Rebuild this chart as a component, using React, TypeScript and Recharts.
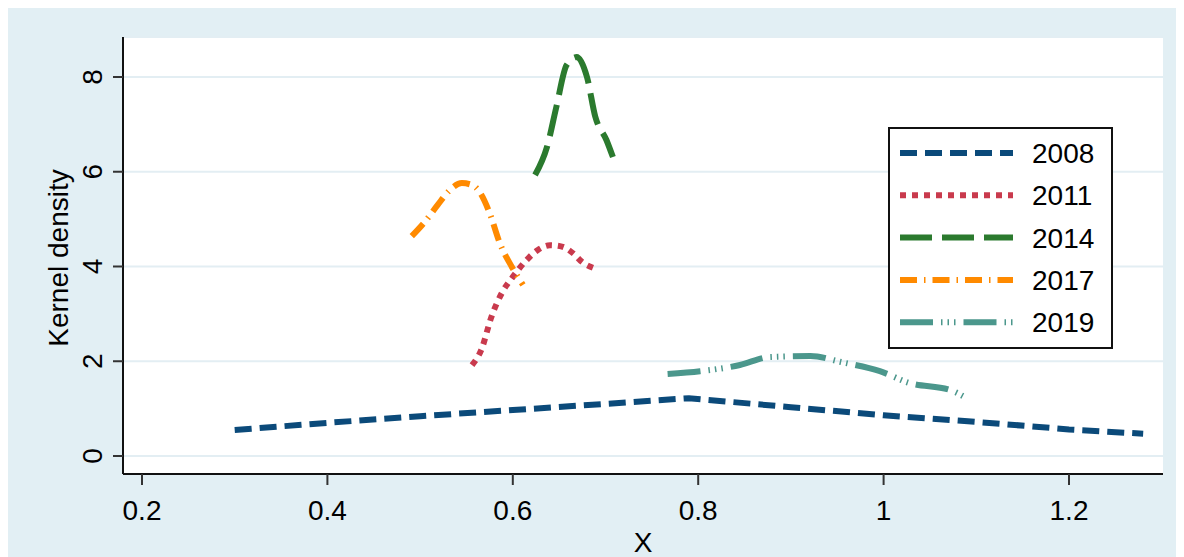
import React from "react";
import {
  LineChart,
  Line,
  XAxis,
  YAxis,
  CartesianGrid,
} from "recharts";

// kernel density curves
const x2008 = [0.3, 0.4, 0.5, 0.6, 0.7, 0.79, 0.9, 1.0, 1.1, 1.2, 1.28];
const y2008 = [0.55, 0.7, 0.84, 0.97, 1.1, 1.22, 1.03, 0.86, 0.72, 0.56, 0.47];

const x2011 = [0.556, 0.566, 0.577, 0.589, 0.6, 0.615, 0.627, 0.64, 0.653, 0.665, 0.675, 0.687];
const y2011 = [1.92, 2.24, 2.94, 3.47, 3.78, 4.14, 4.35, 4.45, 4.42, 4.28, 4.09, 3.97];

const x2014 = [0.624, 0.637, 0.647, 0.658, 0.669, 0.68, 0.689, 0.701, 0.708];
const y2014 = [5.93, 6.53, 7.37, 8.25, 8.42, 8.0, 7.16, 6.67, 6.31];

const x2017 = [0.491, 0.505, 0.519, 0.532, 0.545, 0.556, 0.565, 0.575, 0.586, 0.599, 0.611];
const y2017 = [4.64, 4.94, 5.3, 5.61, 5.76, 5.72, 5.55, 5.13, 4.49, 3.99, 3.61];

const x2019 = [0.767, 0.802, 0.845, 0.877, 0.921, 0.955, 0.996, 1.028, 1.072, 1.088];
const y2019 = [1.73, 1.79, 1.92, 2.09, 2.11, 1.98, 1.79, 1.54, 1.39, 1.24];

const xTicks = [0.2, 0.4, 0.6, 0.8, 1, 1.2];
const yTicks = [0, 2, 4, 6, 8];

const zip = (xs: number[], ys: number[]) => xs.map((x, i) => ({ x, y: ys[i] }));

const series = [
  { name: "2008", data: zip(x2008, y2008), color: "#0b4a7a", dash: "17 8", type: "linear" },
  { name: "2011", data: zip(x2011, y2011), color: "#c93a4d", dash: "6 6", type: "monotone" },
  { name: "2014", data: zip(x2014, y2014), color: "#2b7a2e", dash: "32 10", type: "monotone" },
  { name: "2017", data: zip(x2017, y2017), color: "#ff8a00", dash: "17 7 1.5 7", type: "monotone" },
  { name: "2019", data: zip(x2019, y2019), color: "#4b978c", dash: "33 8 1.5 5 1.5 5 1.5 8", type: "monotone" },
];

const FONT = '"Liberation Sans", Arial, sans-serif';

const YTick = (props: any) => {
  const { x, y, payload } = props;
  const cx = x - 11;
  return (
    <text
      x={cx}
      y={y}
      transform={`rotate(-90 ${cx} ${y})`}
      textAnchor="middle"
      fontSize={28}
      fontFamily={FONT}
      fill="#000"
    >
      {payload.value}
    </text>
  );
};

const XTick = (props: any) => {
  const { x, y, payload } = props;
  return (
    <text x={x} y={y + 33} textAnchor="middle" fontSize={28} fontFamily={FONT} fill="#000">
      {payload.value}
    </text>
  );
};

const LegendBox = () => (
  <div
    style={{
      position: "absolute",
      left: 880,
      top: 119,
      width: 225,
      height: 222,
      boxSizing: "border-box",
      border: "2px solid #111",
      background: "#fff",
    }}
  >
    <svg width={221} height={218} style={{ display: "block" }}>
      {series.map((s, i) => {
        const cy = 24 + i * 42.3;
        return (
          <g key={s.name}>
            <line
              x1={10}
              x2={123}
              y1={cy}
              y2={cy}
              stroke={s.color}
              strokeWidth={6}
              strokeDasharray={s.dash}
            />
            <text x={142} y={cy + 10} fontSize={28} fontFamily={FONT} fill="#000">
              {s.name}
            </text>
          </g>
        );
      })}
    </svg>
  </div>
);

export default function App() {
  return (
    <div style={{ position: "relative", width: 1170, height: 549, background: "#e2eff4" }}>
      <LineChart
        width={1170}
        height={549}
        margin={{ top: 29, right: 15, bottom: 23, left: 45 }}
      >
        <CartesianGrid
          vertical={false}
          fill="#fff"
          stroke="#e3eef3"
          strokeWidth={2}
        />
        <XAxis
          type="number"
          dataKey="x"
          domain={[0.1795, 1.3014]}
          ticks={xTicks}
          allowDataOverflow
          height={60}
          tickSize={11}
          tick={<XTick />}
          axisLine={{ stroke: "#111", strokeWidth: 2 }}
          tickLine={{ stroke: "#333", strokeWidth: 2 }}
          label={{
            content: () => (
              <text x={635} y={544} textAnchor="middle" fontSize={28} fontFamily={FONT} fill="#000">
                X
              </text>
            ),
          }}
        />
        <YAxis
          type="number"
          dataKey="y"
          domain={[-0.38, 8.844]}
          ticks={yTicks}
          allowDataOverflow
          width={70}
          tickSize={10}
          tickMargin={0}
          tick={<YTick />}
          axisLine={{ stroke: "#111", strokeWidth: 2 }}
          tickLine={{ stroke: "#333", strokeWidth: 2 }}
          label={{
            content: () => (
              <text
                x={60}
                y={250}
                transform="rotate(-90 60 250)"
                textAnchor="middle"
                fontSize={28}
                fontFamily={FONT}
                fill="#000"
              >
                Kernel density
              </text>
            ),
          }}
        />
        {series.map((s) => (
          <Line
            key={s.name}
            name={s.name}
            data={s.data}
            dataKey="y"
            type={s.type as any}
            stroke={s.color}
            strokeWidth={6}
            strokeDasharray={s.dash}
            strokeLinecap="butt"
            dot={false}
            activeDot={false}
            isAnimationActive={false}
          />
        ))}
      </LineChart>
      <LegendBox />
    </div>
  );
}
